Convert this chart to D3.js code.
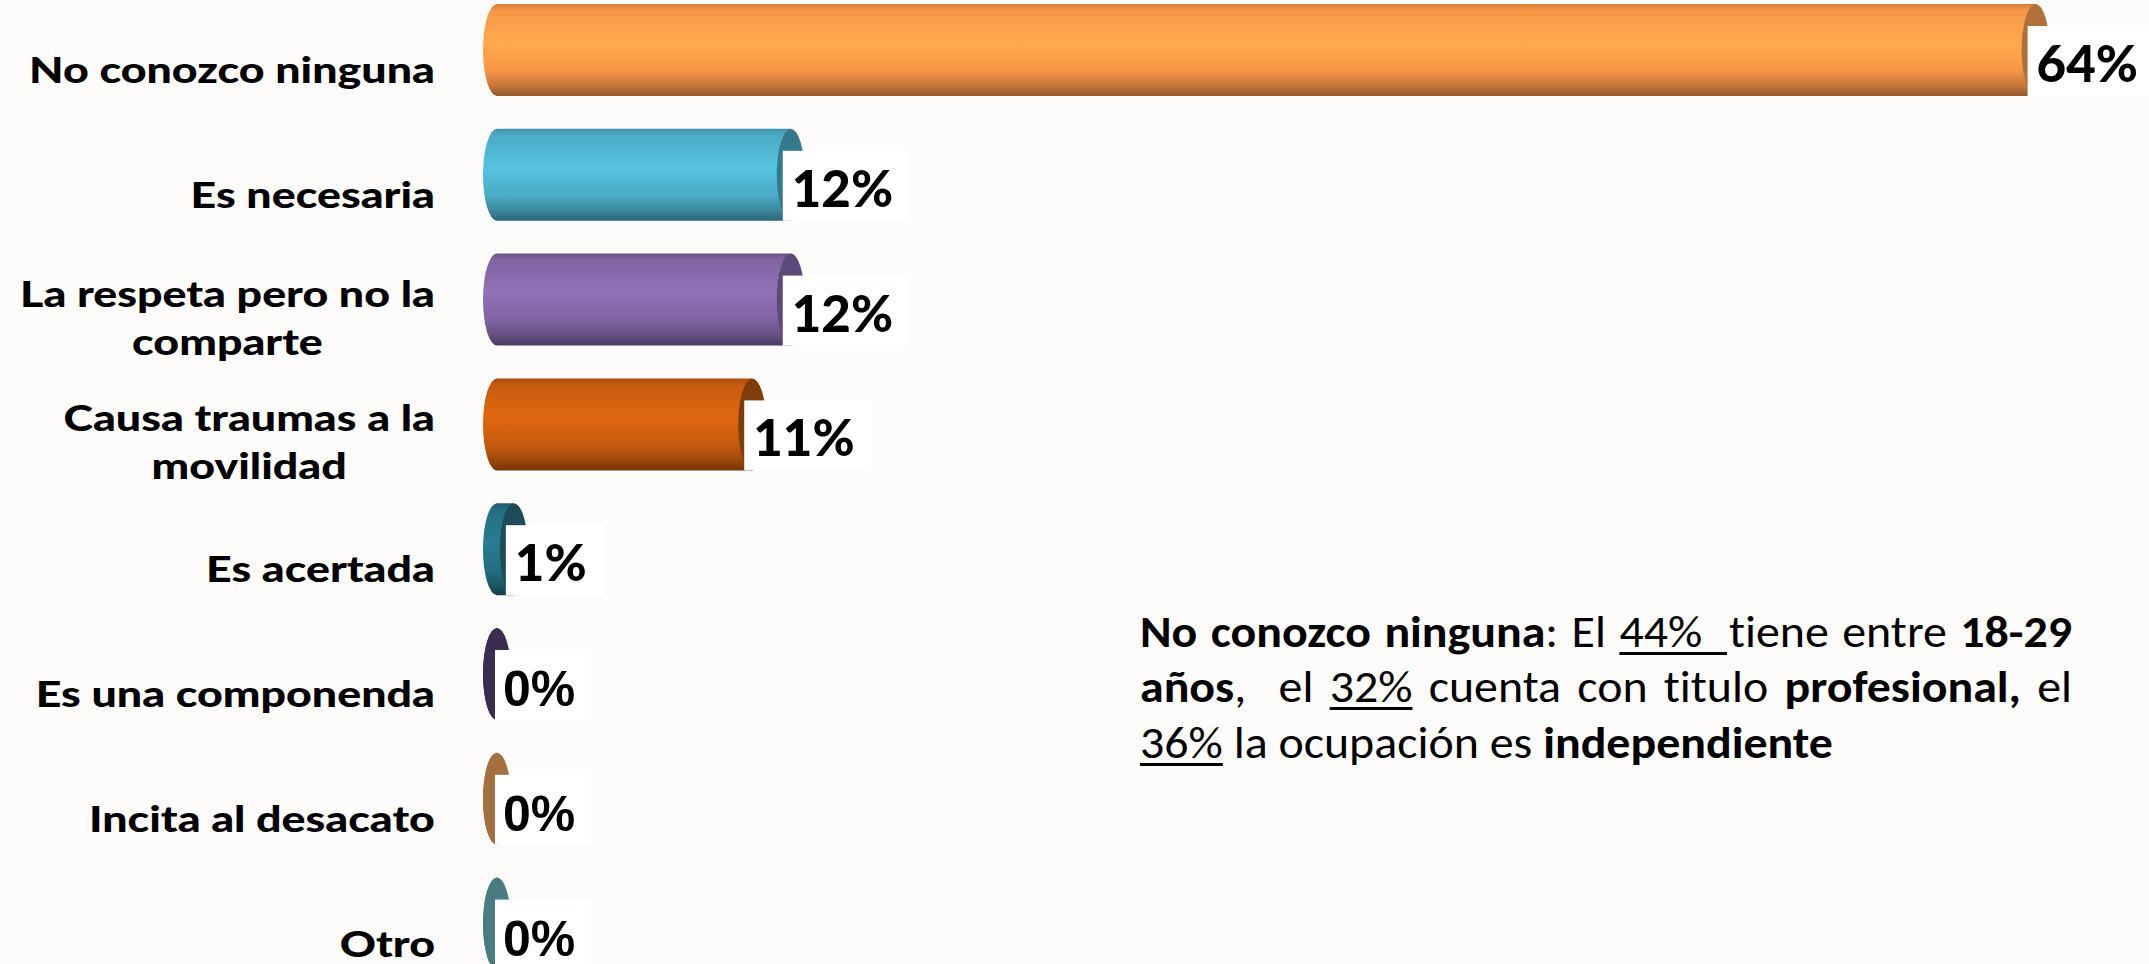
<!DOCTYPE html>
<html><head><meta charset="utf-8">
<script src="https://cdn.jsdelivr.net/npm/d3@7"></script>
<style>html,body{margin:0;padding:0;background:#FDFCFA;overflow:hidden}</style>
</head><body>
<svg id="chart" width="2149" height="964"></svg>
<script>
// ---------- data ----------
const categories = [
  "No conozco ninguna",
  "Es necesaria",
  "La respeta pero no la comparte",
  "Causa traumas a la movilidad",
  "Es acertada",
  "Es una componenda",
  "Incita al desacato",
  "Otro"
];
const values = [63.9, 12.2, 12.2, 10.6, 0.7, 0, 0, 0];
const barColors = ["#F79646", "#4BACC6", "#8064A2", "#C65B0E", "#236E80", "#3A2D50", "#A5703F", "#4A7C84"];
const capColors = ["#B0703A", "#357A8C", "#5C4A7C", "#7E3D0A", "#1D4B58", "#3A2D50", "#A5703F", "#4A7C84"];
const noteLines = [
  "**No conozco ninguna**: El __44%  __tiene entre **18-29**",
  "**años**,  el __32%__ cuenta con titulo **profesional,** el",
  "__36%__ la ocupación es **independiente**"
];

// ---------- layout ----------
const W = 2149, H = 964;
const svg = d3.select("#chart");
const defs = svg.append("defs");
svg.append("rect").attr("width", W).attr("height", H).attr("fill", "#FDFCFA");

const step = 124.8, bandFrac = 92 / 124.8;
const pad = 1 - bandFrac;
const y = d3.scaleBand().domain(categories)
  .range([4 - step * pad / 2, 4 - step * pad / 2 + step * categories.length])
  .paddingInner(pad).paddingOuter(pad / 2);
const x = d3.scaleLinear().domain([0, 64]).range([497, 2038]);
const rx = 14;
const fmt = v => d3.format(".0f")(v) + "%";

// gradients
barColors.forEach((c, i) => {
  const base = d3.rgb(c);
  const g = defs.append("linearGradient").attr("id", "g" + i)
    .attr("x1", 0).attr("y1", 0).attr("x2", 0).attr("y2", 1);
  [[0, base.darker(0.45)], [0.07, base], [0.42, base.brighter(0.35)], [0.72, base],
   [0.88, base.darker(0.6)], [1, base.darker(1.5)]].forEach(([o, col]) =>
    g.append("stop").attr("offset", o).attr("stop-color", col.formatHex()));
});

const bars = svg.append("g").selectAll("g").data(categories).join("g");
bars.each(function (cat, i) {
  const gsel = d3.select(this);
  const top = y(cat), bh = y.bandwidth(), bot = top + bh, cy = top + bh / 2;
  const xs = x(0), xe = x(values[i]);
  const path = `M${xs},${top} L${xe},${top} L${xe},${bot} L${xs},${bot} A${rx},${bh / 2} 0 0 1 ${xs},${top} Z`;
  gsel.append("path").attr("d", path).attr("fill", `url(#g${i})`);
  gsel.append("ellipse").attr("cx", xe).attr("cy", cy).attr("rx", rx).attr("ry", bh / 2)
    .attr("fill", capColors[i]);
  // value label
  const zero = fmt(values[i]) === "0%";
  const boxX = Math.max(xe - 8, xs - 2);
  const lbl = gsel.append("text")
    .attr("x", boxX + (zero ? 8 : 9)).attr("y", cy + 32)
    .attr("font-family", zero ? "'Liberation Sans', Arial, sans-serif" : "Lato, sans-serif")
    .attr("font-weight", zero ? 700 : 900)
    .attr("font-size", zero ? 50 : 51)
    .attr("fill", "#000")
    .text(fmt(values[i]));
  const tw = lbl.node().getComputedTextLength();
  gsel.insert("rect", "text").attr("x", boxX).attr("y", top + 22)
    .attr("width", tw + (zero ? 24 : 26)).attr("height", bh - 22).attr("fill", "#fff");
});

// category labels
const catG = svg.append("g").attr("font-family", "Lato, sans-serif").attr("font-weight", 900)
  .attr("font-size", 37).attr("fill", "#000");
const measurer = catG.append("text").attr("visibility", "hidden");
function tw(s) { measurer.text(s); return measurer.node().getComputedTextLength(); }
const labelScale = 406 / tw(categories[0]);
const maxLabelW = 440 / labelScale, labelRight = 435;
categories.forEach(cat => {
  const words = cat.split(" ");
  const lines = []; let cur = "";
  words.forEach(w => {
    const t = cur ? cur + " " + w : w;
    if (tw(t) > maxLabelW && cur) { lines.push(cur); cur = w; } else cur = t;
  });
  lines.push(cur);
  const mw = d3.max(lines, tw) * labelScale;
  const cy = y(cat) + y.bandwidth() / 2;
  const base = lines.length === 1 ? [cy + 33] : [cy + 7, cy + 55];
  lines.forEach((ln, k) => {
    catG.append("text")
      .attr("transform", `translate(${labelRight - mw / 2},${base[k]}) scale(${labelScale},1)`)
      .attr("text-anchor", "middle").text(ln);
  });
});
measurer.remove();

// ---------- note text ----------
const noteX = 1140, noteW = 932, noteBase = [647, 702, 758], justify = [true, true, false];
const lastLineW = 693;
const noteFont = "Carlito, Lato, sans-serif", noteSize = 45;
const noteG = svg.append("g").attr("font-family", noteFont).attr("font-size", noteSize)
  .attr("fill", "#000").style("font-variant-ligatures", "none");
const m2 = noteG.append("text").attr("visibility", "hidden");
function mw(s, b) { m2.attr("font-weight", b ? 700 : 400).text(s.replace(/ /g, "\u00a0")); return m2.node().getComputedTextLength(); }
const spaceW = mw("a a", 0) - mw("aa", 0);

function parse(s) {
  const runs = [];
  s.replace(/\*\*(.+?)\*\*|__(.+?)__|([^*_]+)/g, (m, b, u, n) => {
    if (b) runs.push({ t: b, b: 1 }); else if (u) runs.push({ t: u, u: 1 }); else runs.push({ t: n });
  });
  const words = []; let cur = null; let pendingGap = 0;
  runs.forEach(r => {
    const parts = r.t.split(/( +)/);
    parts.forEach(p => {
      if (p === "") return;
      if (/^ +$/.test(p)) {
        if (cur) { words.push(cur); cur = null; }
        pendingGap += p.length;
        if (r.u && words.length) words[words.length - 1].ulExtend = true;
      } else {
        if (!cur) { cur = { segs: [], gapBefore: words.length ? pendingGap : 0 }; pendingGap = 0; }
        cur.segs.push({ t: p, b: r.b, u: r.u });
      }
    });
  });
  if (cur) words.push(cur);
  return words;
}

const parsed = noteLines.map(parse);
parsed.forEach(ws => ws.forEach(w => { w.segs.forEach(s => s.w = mw(s.t, s.b)); w.w = d3.sum(w.segs, s => s.w); }));
const last = parsed[parsed.length - 1];
let sx = lastLineW / (d3.sum(last, w => w.w) + d3.sum(last, w => w.gapBefore) * spaceW);
parsed.forEach((ws, li) => {
  if (!justify[li]) return;
  const nat = d3.sum(ws, w => w.w) + d3.sum(ws, w => w.gapBefore) * spaceW * 0.7;
  sx = Math.min(sx, noteW / nat);
});
parsed.forEach((ws, li) => {
  const totalW = d3.sum(ws, w => w.w) * sx;
  const gaps = d3.sum(ws, w => w.gapBefore);
  const gw = justify[li] ? (noteW - totalW) / gaps : spaceW * sx;
  let cx = noteX;
  const pos = [];
  ws.forEach((w, k) => { cx += w.gapBefore * gw; pos.push(cx); cx += w.w * sx; });
  ws.forEach((w, k) => {
    const t = noteG.append("text").attr("transform", `translate(${pos[k]},${noteBase[li]}) scale(${sx},1)`);
    let sxp = 0;
    w.segs.forEach(s => {
      t.append("tspan").attr("font-weight", s.b ? 700 : 400).text(s.t);
      if (s.u) {
        let end = pos[k] + (sxp + s.w) * sx;
        if (w.ulExtend && k + 1 < ws.length) end = pos[k + 1] - 2;
        noteG.append("rect").attr("x", pos[k] + sxp * sx).attr("y", noteBase[li] + 5)
          .attr("width", end - (pos[k] + sxp * sx)).attr("height", 3).attr("fill", "#000");
      }
      sxp += s.w;
    });
  });
});
m2.remove();
</script>
</body></html>
